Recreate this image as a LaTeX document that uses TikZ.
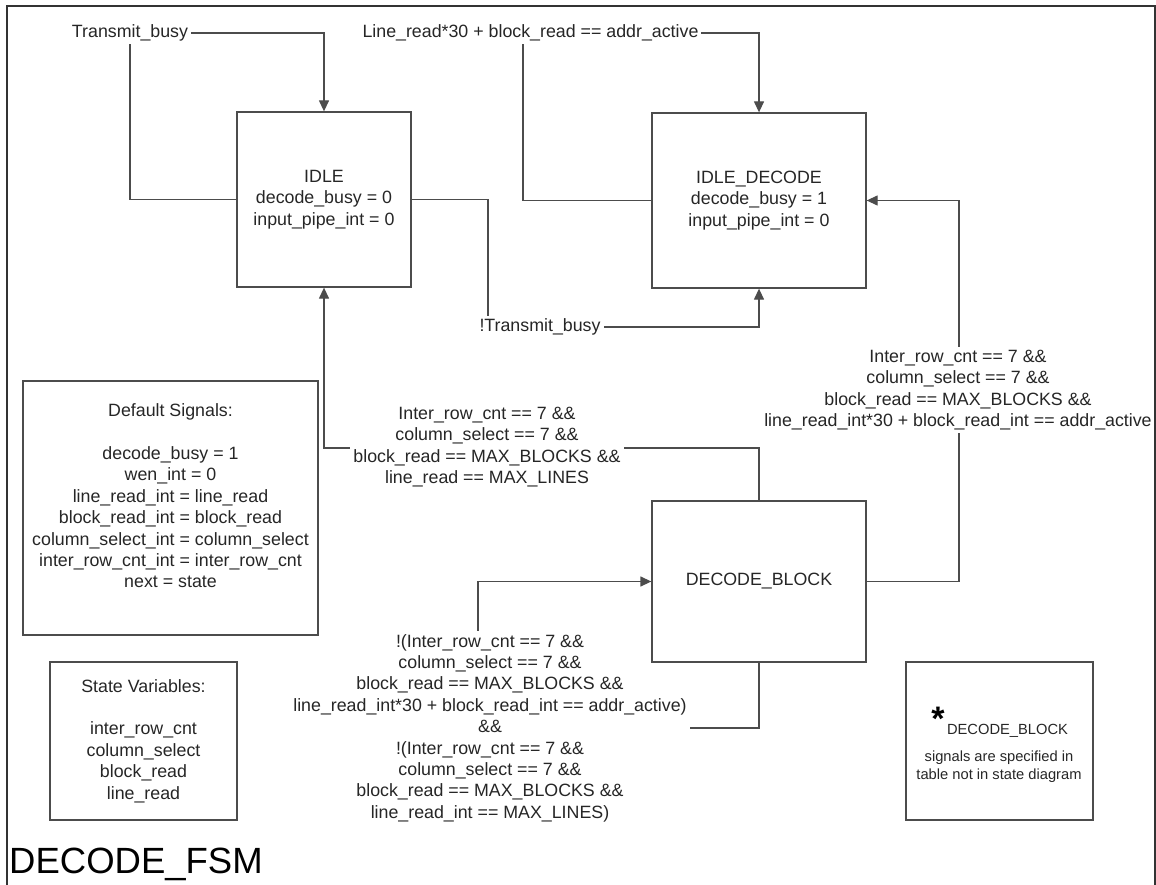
\documentclass[tikz,border=0pt]{standalone}
\usepackage{fontspec}
\setmainfont{Liberation Sans}
\usetikzlibrary{arrows.meta,backgrounds}

\begin{document}
\begin{tikzpicture}[x=1pt,y=-1pt,
  every node/.style={font=\fontsize{17.8}{21.4}\selectfont, text=black!85},
  state/.style={draw=black!70, line width=1.3pt, rectangle, inner sep=0pt, align=center},
  panel/.style={draw=black!70, line width=1.3pt, rectangle, inner sep=0pt},
  cond/.style={fill=white, inner sep=3pt, align=center},
  conn/.style={draw=black!70, line width=1.3pt},
  arr/.style={conn, -{Triangle[length=11pt,width=10pt]}},
  notefont/.style={font=\fontsize{14.7}{18}\selectfont}
]
\useasboundingbox (0,0) rectangle (1156,885);
\clip (0,0) rectangle (1156,885);

% transition conditions (white backing hides the connector behind them)
\node[cond] (tb) at (130,33) {Transmit\_busy};
\node[cond] (lr) at (530.5,33) {Line\_read*30 + block\_read == addr\_active};
\coordinate (lrv) at (523,33);
\node[cond] (ntb) at (540,327) {!Transmit\_busy};
\coordinate (ntbv) at (488,327);
\node[cond] (rc) at (958,390) {Inter\_row\_cnt == 7 \&\&\\column\_select == 7 \&\&\\block\_read == MAX\_BLOCKS \&\&\\line\_read\_int*30 + block\_read\_int == addr\_active};
\coordinate (rcv) at (959,390);
\node[cond] (lc) at (487,447) {Inter\_row\_cnt == 7 \&\&\\column\_select == 7 \&\&\\block\_read == MAX\_BLOCKS \&\&\\line\_read == MAX\_LINES};
\coordinate (lcv) at (487,448);
\node[cond] (bc) at (490,728) {!(Inter\_row\_cnt == 7 \&\&\\column\_select == 7 \&\&\\block\_read == MAX\_BLOCKS \&\&\\line\_read\_int*30 + block\_read\_int == addr\_active)\\\&\&\\!(Inter\_row\_cnt == 7 \&\&\\column\_select == 7 \&\&\\block\_read == MAX\_BLOCKS \&\&\\line\_read\_int == MAX\_LINES)};
\coordinate (bcv) at (478,728);

% outer frame (runs past the lower edge)
\draw[line width=1.6pt, draw=black!80] (7,6) rectangle (1155,905);

% states
\node[state, minimum width=174pt, minimum height=175pt] (idle) at (324,199.5)
  {IDLE\\decode\_busy = 0\\input\_pipe\_int = 0};
\node[state, minimum width=214pt, minimum height=175pt] (idledec) at (759,200.5)
  {IDLE\_DECODE\\decode\_busy = 1\\input\_pipe\_int = 0};
\node[state, minimum width=214pt, minimum height=161pt] (dblock) at (759,581.5)
  {DECODE\_BLOCK};

% transitions
\begin{scope}[on background layer]
\draw[arr] (idle.west) -| (tb.center) -| (idle.north);
\draw[arr] (idledec.west) -| (lrv) -| (idledec.north);
\draw[arr] (idle.east) -| (ntbv) -| (idledec.south);
\draw[arr] (dblock.east) -| (rcv) |- (idledec.east);
\draw[arr] (dblock.north) |- (lcv) -| (idle.south);
\draw[arr] (dblock.south) |- (bcv) |- (dblock.west);
\end{scope}

% default signals panel
\node[panel, minimum width=295pt, minimum height=254pt] (defbox) at (170.5,508) {};
\node[align=center] (deftext) at (170.5,496)
  {Default Signals:\\[21.4pt]decode\_busy = 1\\wen\_int = 0\\line\_read\_int = line\_read\\block\_read\_int = block\_read\\column\_select\_int = column\_select\\inter\_row\_cnt\_int = inter\_row\_cnt\\next = state};

% state variables panel
\node[panel, align=center, minimum width=187pt, minimum height=158pt] (svbox) at (143.5,741)
  {State Variables:\\[21.4pt]inter\_row\_cnt\\column\_select\\block\_read\\line\_read};

% note panel
\node[panel, minimum width=187pt, minimum height=158pt] (notebox) at (999.5,741) {};
\node[font=\bfseries\fontsize{34}{34}\selectfont, anchor=base, inner sep=0pt, text=black] (star) at (938,730) {*};
\node[notefont] (notehead) at (1007.5,731) {DECODE\_BLOCK};
\node[notefont, align=center] (notetext) at (999,767) {signals are specified in\\table not in state diagram};

% title
\node[font=\fontsize{36.5}{36.5}\selectfont, anchor=base west, inner sep=0pt, text=black] (title) at (9,873) {DECODE\_FSM};
\end{tikzpicture}
\end{document}
